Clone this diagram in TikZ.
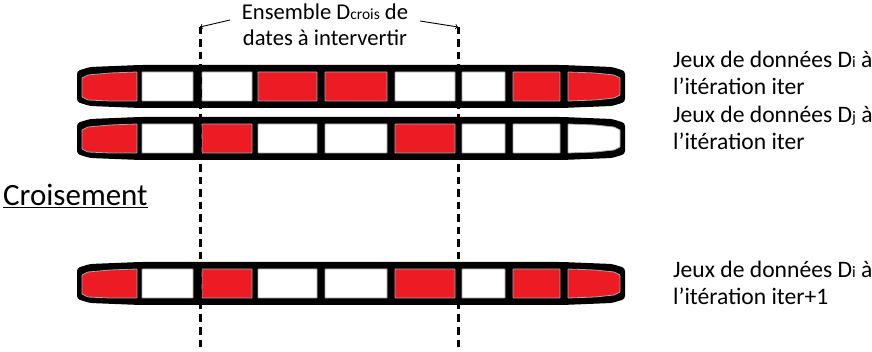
\documentclass[tikz,border=0pt]{standalone}
\usepackage{fontspec}
\setmainfont{Carlito}
\usepackage{tikz}
\usetikzlibrary{arrows,positioning,calc}
\definecolor{cellred}{HTML}{ED1C24}

\begin{document}
\begin{tikzpicture}[x=1pt, y=-1pt,
  bar/.style={fill=black, rounded corners=3pt},
  cellbox/.style={draw=gray!70, line width=0.8pt, rounded corners=0.5pt},
  cutline/.style={line width=3pt, dash pattern=on 7.5pt off 5pt},
  txt/.style={font=\fontsize{23.6}{27}\selectfont, inner sep=0pt, align=left}]
  \useasboundingbox (0,0) rectangle (872,352);
  % bars, one per data set
  \foreach \t/\cl/\cr in {65/cellred/cellred, 117/cellred/white, 262/cellred/cellred} {
    \fill[bar] (140,\t) -- (562,\t) -- (612,\t+2) -- (625,\t+6) -- (625,\t+37) -- (612,\t+41)
      -- (562,\t+43) -- (140,\t+43) -- (90,\t+41) -- (77,\t+37) -- (77,\t+6) -- (90,\t+2) -- cycle;
    \filldraw[cellbox, fill=\cl] (137,\t+7) -- (110,\t+8) -- (88,\t+10) -- (82,\t+13) -- (82,\t+32)
      -- (88,\t+35) -- (110,\t+36) -- (137,\t+36) -- cycle;
    \filldraw[cellbox, fill=\cr] (568,\t+7) -- (595,\t+8) -- (614,\t+10) -- (620,\t+13) -- (620,\t+30)
      -- (614,\t+33) -- (595,\t+35) -- (568,\t+36) -- cycle;
  }
  \foreach \a/\b/\ca/\cb/\cc in {142/193/white/white/white, 202/252/white/cellred/cellred,
      258/317/cellred/white/white, 325/387/cellred/white/white, 395/455/white/cellred/cellred,
      462/505/white/white/white, 513/560/cellred/white/cellred} {
    \filldraw[cellbox, fill=\ca] (\a,72) rectangle (\b,101);
    \filldraw[cellbox, fill=\cb] (\a,124) rectangle (\b,153);
    \filldraw[cellbox, fill=\cc] (\a,269) rectangle (\b,298);
  }
  % labels
  \node[txt, anchor=base west] (lblDi) at (673,95) {Jeux de données D{\fontsize{16}{16}\selectfont i} à\\l’itération iter};
  \node[txt, anchor=base west] (lblDj) at (673,150) {Jeux de données D{\fontsize{16}{16}\selectfont j} à\\l’itération iter};
  \node[txt, anchor=base west] (lblNext) at (673,305) {Jeux de données D{\fontsize{16}{16}\selectfont i} à\\l’itération iter+1};
  \node[txt, anchor=base west, font=\fontsize{31}{34}\selectfont] (crois) at (3,206) {\underline{Croisement}};
  \node[txt, anchor=base, align=center, font=\fontsize{22.6}{26}\selectfont] (capt) at (325,46)
    {Ensemble D{\fontsize{15.5}{15.5}\selectfont crois} de\\dates à intervertir};
  % crossing bounds
  \coordinate (cutA) at (200,27);
  \coordinate (cutAend) at (200,352);
  \coordinate (cutB) at (458,27);
  \coordinate (cutBend) at (458,352);
  \draw[cutline] (cutA) -- (cutAend);
  \draw[cutline] (cutB) -- (cutBend);
  \coordinate (arrA) at (230,20);
  \coordinate (arrB) at (420,21);
  \draw[->, line width=0.9pt] (arrA) -- (cutA);
  \draw[->, line width=0.9pt] (arrB) -- (cutB);
\end{tikzpicture}
\end{document}
